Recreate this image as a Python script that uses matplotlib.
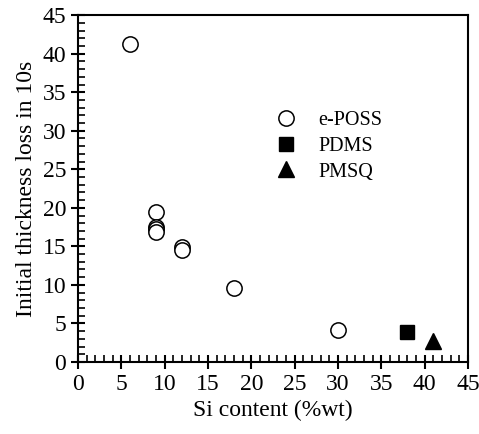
import matplotlib
matplotlib.use("Agg")
import matplotlib.pyplot as plt
from matplotlib.ticker import MultipleLocator

plt.rcParams['font.family'] = ['Liberation Serif', 'DejaVu Serif']

eposs_si = [6, 9, 9, 9, 9, 12, 12, 18, 30]
eposs_loss = [41.3, 19.4, 17.5, 17.2, 16.8, 14.9, 14.5, 9.6, 4.1]
pdms_si = [38]
pdms_loss = [3.9]
pmsq_si = [41]
pmsq_loss = [2.7]

fig = plt.figure(figsize=(4.79, 4.34), dpi=100)
ax = fig.add_axes([0.163, 0.166, 0.814, 0.799])

ax.plot(eposs_si, eposs_loss, 'o', ms=11, mfc='white', mec='black', mew=1.1,
        ls='none', label='e-POSS')
ax.plot(pdms_si, pdms_loss, 's', ms=10, color='black', ls='none', label='PDMS')
ax.plot(pmsq_si, pmsq_loss, '^', ms=11, color='black', ls='none', label='PMSQ')

ax.set_xlim(0, 45)
ax.set_ylim(0, 45)
ax.xaxis.set_major_locator(MultipleLocator(5))
ax.yaxis.set_major_locator(MultipleLocator(5))
ax.xaxis.set_minor_locator(MultipleLocator(1))
ax.yaxis.set_minor_locator(MultipleLocator(1))
ax.tick_params(which='major', direction='inout', length=10, width=1.5, labelsize=17)
ax.tick_params(which='minor', direction='in', length=5, width=1.2)
for s in ax.spines.values():
    s.set_linewidth(1.5)

ax.set_xlabel('Si content (%wt)', fontsize=17)
ax.set_ylabel('Initial thickness loss in 10s', fontsize=17)

ax.legend(frameon=False, loc='upper left', bbox_to_anchor=(0.435, 0.775),
          fontsize=14.5, handletextpad=0.6, labelspacing=0.32)

fig.savefig('out.png', dpi=100)
